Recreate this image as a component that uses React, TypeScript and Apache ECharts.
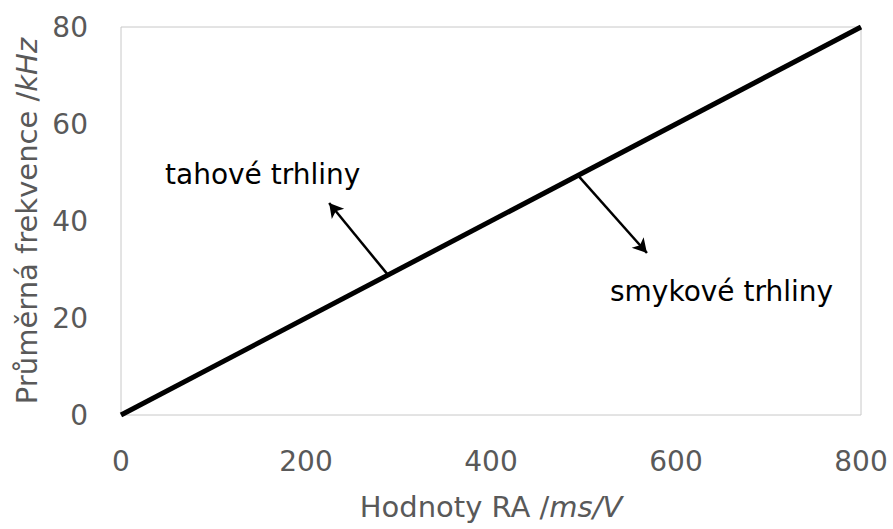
import React, { useEffect, useRef } from "react";
import * as echarts from "echarts";

const lineX: number[] = [0, 800];
const lineY: number[] = [0, 80];

const xTicks: number[] = [0, 200, 400, 600, 800];
const yTicks: number[] = [0, 20, 40, 60, 80];

// arrows: [startX, startY, endX, endY] in data units
const arrowTension: number[] = [288.6, 28.9, 225, 43.7];
const arrowShear: number[] = [494, 49.4, 568.6, 33.4];

const labelTension = "tahové trhliny";
const labelShear = "smykové trhliny";

const xTitle = "Hodnoty RA /{i|ms/V}";
const yTitle = "Průměrná frekvence /{i|kHz}";

const FONT = "DejaVu Sans";

export default function App() {
  const ref = useRef<HTMLDivElement>(null);
  useEffect(() => {
    if (!ref.current) return;
    const chart = echarts.init(ref.current, undefined, { renderer: "svg" });
    const data = lineX.map((x, i) => [x, lineY[i]]);
    const titleStyle = {
      color: "#595959",
      fontFamily: FONT,
      fontSize: 29,
      rich: { i: { fontStyle: "italic", color: "#595959", fontFamily: FONT, fontSize: 29 } },
    };
    chart.setOption({
      animation: false,
      backgroundColor: "#ffffff",
      grid: {
        left: 121,
        right: 32,
        top: 27,
        bottom: 114,
        show: true,
        borderColor: "#c8c8c8",
        borderWidth: 1,
      },
      xAxis: {
        type: "value",
        min: xTicks[0],
        max: xTicks[xTicks.length - 1],
        interval: 200,
        axisLine: { show: false },
        axisTick: { show: false },
        splitLine: { show: false },
        axisLabel: { color: "#595959", fontFamily: FONT, fontSize: 28, margin: 32 },
        name: xTitle,
        nameLocation: "middle",
        nameGap: 77,
        nameTextStyle: titleStyle,
      },
      yAxis: {
        type: "value",
        min: yTicks[0],
        max: yTicks[yTicks.length - 1],
        interval: 20,
        axisLine: { show: false },
        axisTick: { show: false },
        splitLine: { show: false },
        axisLabel: { color: "#595959", fontFamily: FONT, fontSize: 28, margin: 33 },
        name: yTitle,
        nameLocation: "middle",
        nameGap: 80,
        nameTextStyle: titleStyle,
      },
      series: [
        {
          type: "line",
          data,
          symbol: "none",
          lineStyle: { color: "#000000", width: 5 },
          silent: true,
          markLine: {
            silent: true,
            symbol: ["none", "arrow"],
            symbolSize: [12, 14],
            label: { show: false },
            lineStyle: { color: "#000000", width: 2.5, type: "solid" },
            data: [
              [
                { coord: [arrowTension[0], arrowTension[1]] },
                { coord: [arrowTension[2], arrowTension[3]] },
              ],
              [
                { coord: [arrowShear[0], arrowShear[1]] },
                { coord: [arrowShear[2], arrowShear[3]] },
              ],
            ],
          },
        },
      ],
      graphic: [
        {
          type: "text",
          x: 165,
          y: 174,
          style: {
            text: labelTension,
            fill: "#000000",
            font: `28px "${FONT}"`,
            verticalAlign: "middle",
            align: "left",
          },
        },
        {
          type: "text",
          x: 610,
          y: 291,
          style: {
            text: labelShear,
            fill: "#000000",
            font: `28px "${FONT}"`,
            verticalAlign: "middle",
            align: "left",
          },
        },
      ],
    });
    return () => chart.dispose();
  }, []);
  return (
    <div
      ref={ref}
      style={{ position: "fixed", left: 0, top: 0, width: 893, height: 529 }}
    />
  );
}
